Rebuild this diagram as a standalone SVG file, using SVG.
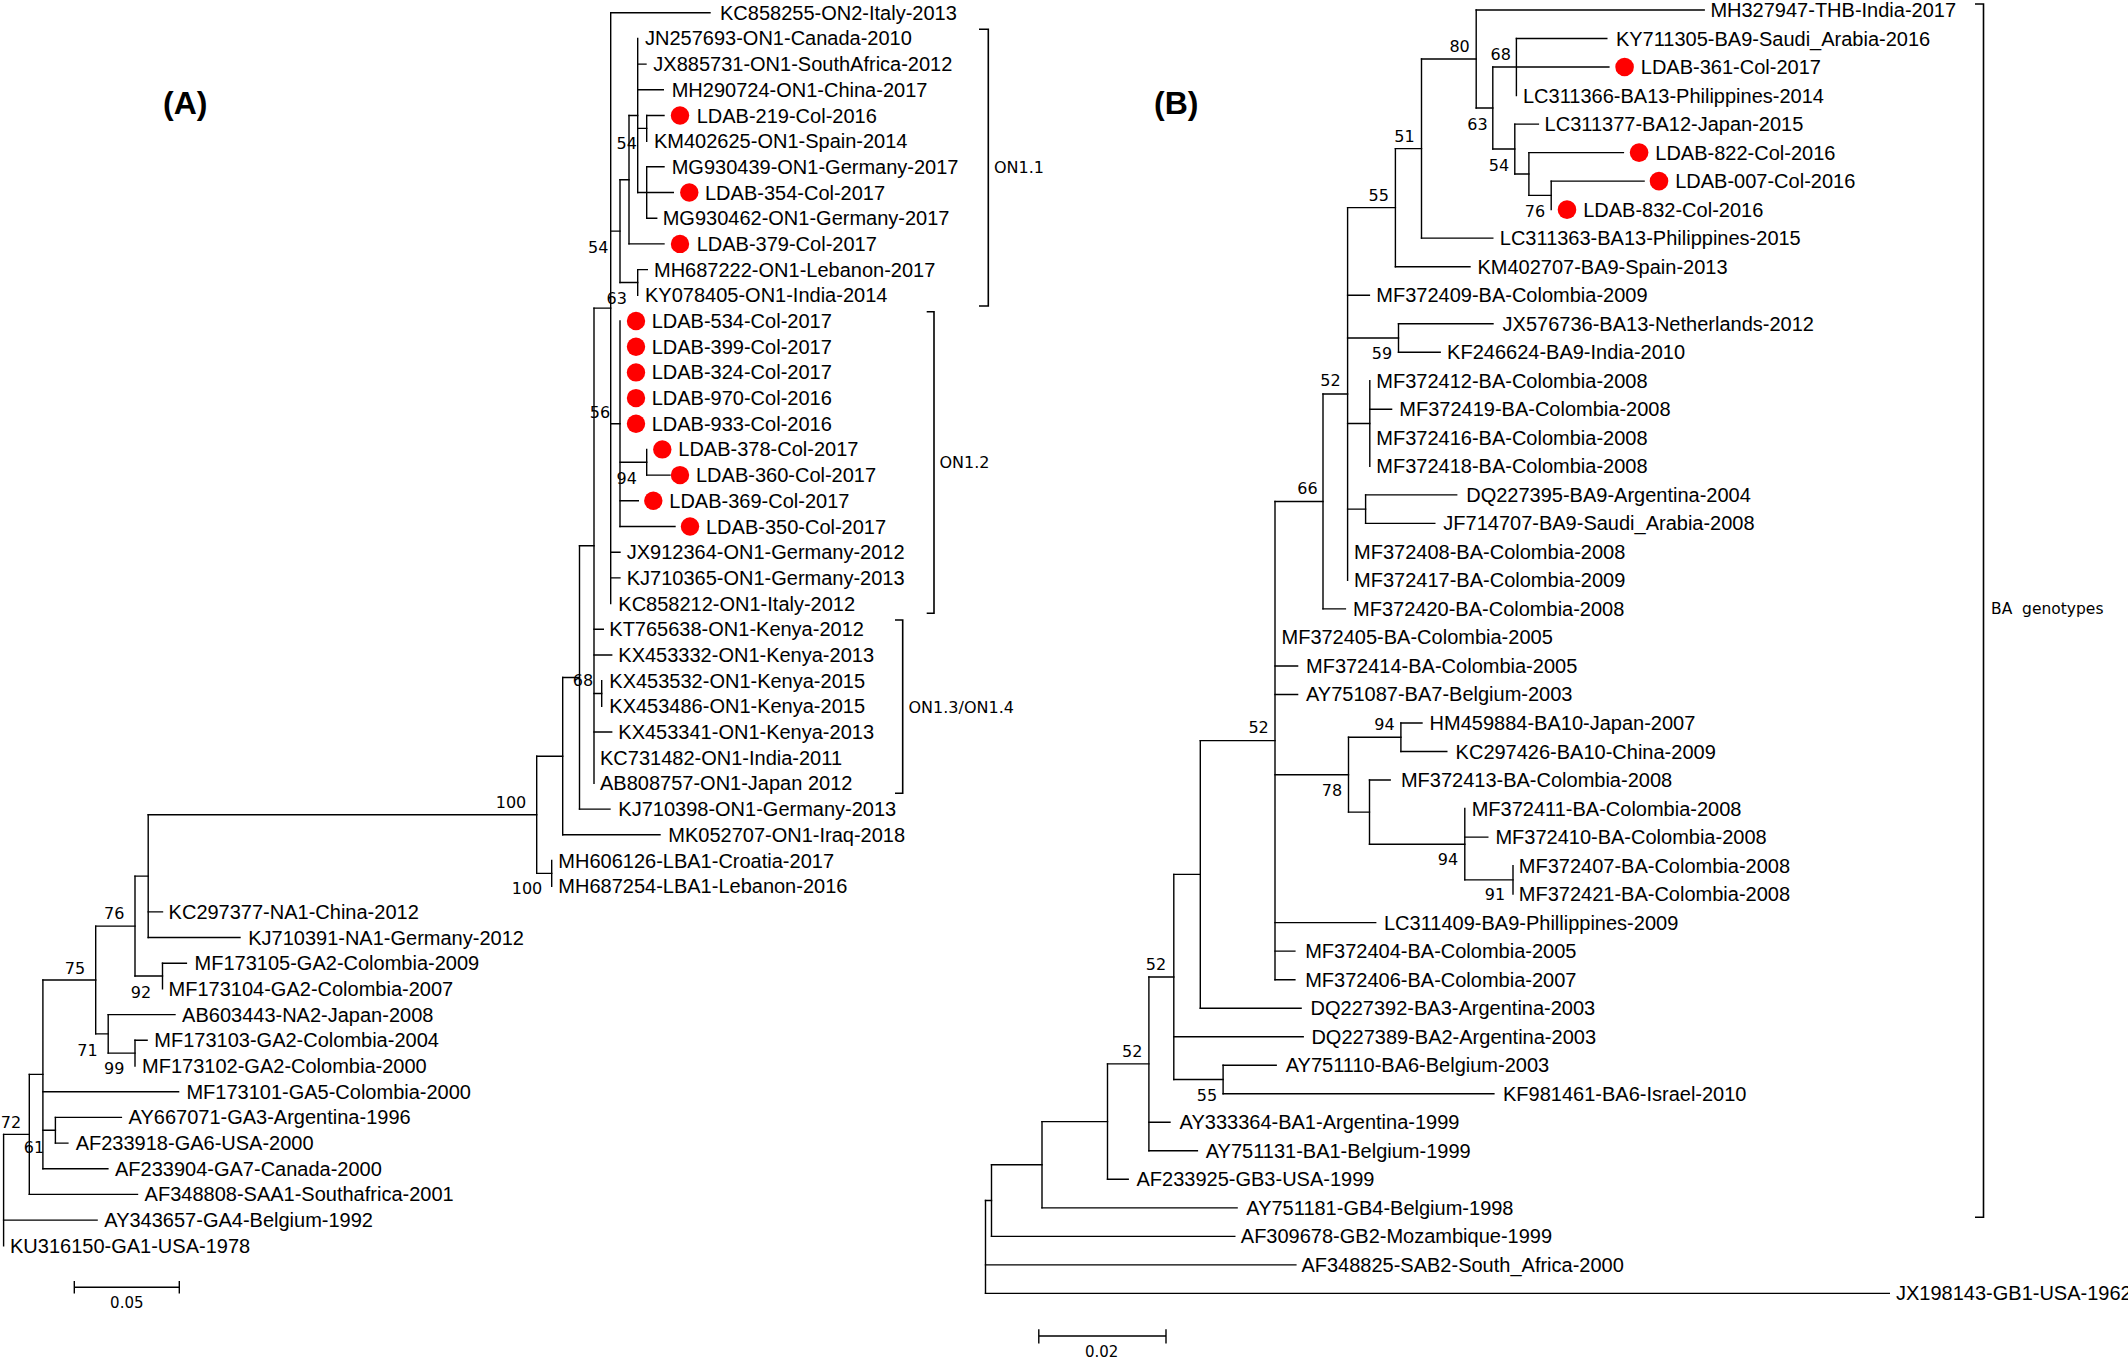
<svg xmlns="http://www.w3.org/2000/svg" width="2128" height="1358" viewBox="0 0 2128 1358">
<style>
.bg{fill:#fff}
.br path{fill:none;stroke:#000;stroke-width:1.4;stroke-linecap:square}
.t{font-family:"Liberation Sans",Arial,sans-serif;font-size:20px;fill:#000}
.bs{font-family:"DejaVu Sans",Verdana,sans-serif;font-size:16px;fill:#000;text-anchor:middle}
.cl{font-family:"DejaVu Sans",Verdana,sans-serif;font-size:16px;fill:#000}
.sc{font-family:"DejaVu Sans",Verdana,sans-serif;font-size:15px;fill:#000;text-anchor:middle}
.pl{font-family:"Liberation Sans",Arial,sans-serif;font-size:32px;font-weight:bold;fill:#000}
.dot{fill:#ff0000}
.bk path{fill:none;stroke:#000;stroke-width:1.6}
</style>
<rect class="bg" x="0" y="0" width="2128" height="1358"/>
<text class="pl" x="163" y="114">(A)</text>
<text class="pl" x="1154" y="114">(B)</text>

<g id="connectors-A" class="br">
<path d="M646.7 115.5V141.2M646.7 166.8V218.2M637.7 38.4V192.5M629 115.45V243.9M637.7 269.6V295.3M620 179.7V282.45M620 321V526.5M646.7 449.4V475.1M610.7 12.7V603.6M601.7 680.6V706.3M594 308.15V783.4M579.5 545.8V809.1M562.7 677.5V834.8M551.7 860.5V886.2M536.7 756.2V873.35M148.2 814.8V937.5M162.5 963.2V988.9M135 876.15V976.05M135 1040.3V1066M108.2 1014.6V1053.15M95.7 926.1V1033.9M55.4 1117.4V1143.1M42.9 980V1168.8M29.3 1074.4V1194.4M3.6 1134.4V1245.8"/>
<path d="M3.6 1134.4H29.3M3.6 1220.1H97.1M29.3 1074.4H42.9M29.3 1194.4H137.5M42.9 980H95.7M42.9 1091.7H178.6M42.9 1130.25H55.4M55.4 1117.4H121.4M55.4 1143.1H67.9M42.9 1168.8H107.9M95.7 926.1H135M95.7 1033.9H108.2M108.2 1014.6H175M108.2 1053.15H135M135 1040.3H147.1M135 876.15H148.2M135 976.05H162.5M162.5 963.2H186.4M148.2 814.8H536.7M148.2 911.9H162.5M148.2 937.5H240M536.7 756.2H562.7M536.7 873.35H551.7M562.7 677.5H579.5M562.7 834.8H660M579.5 545.8H594M579.5 809.1H610M594 308.15H610.7M594 629.3H603.3M594 655H611.7M594 693.45H601.7M594 732H611.7M610.7 12.7H710M610.7 231.1H620M610.7 423.75H620M610.7 552.2H620M610.7 577.9H620M620 179.7H629M620 282.45H637.7M637.7 269.6H647.3M629 115.45H637.7M629 243.9H664M637.7 64.1H646M637.7 89.8H663.3M637.7 128.35H646.7M637.7 192.5H673.3M646.7 115.5H664M646.7 166.8H664M646.7 218.2H656.7M620 462.25H646.7M620 500.8H638.3M620 526.5H675M646.7 475.1H670"/>
</g>

<g id="connectors-B" class="br">
<path d="M1516.4 38.52V95.56M1551.2 181.12V209.64M1528.9 152.6V195.38M1514.8 124.08V173.99M1492.8 67.04V149.04M1476.2 10V108.04M1421.5 59.02V238.16M1395.4 148.59V266.68M1398.5 323.72V352.24M1369.8 380.76V466.32M1365.6 494.84V523.36M1347.6 207.64V580.4M1323 394.02V608.92M1400.9 723V751.52M1513 865.6V894.12M1464.8 808.56V879.86M1369.5 780.04V844.21M1348.5 737.26V812.13M1275 501.47V979.68M1200.3 740.58V1008.2M1223.1 1065.24V1093.76M1173.8 874.39V1079.5M1148.9 976.95V1150.8M1107.5 1063.88V1179.32M1042 1121.6V1207.84M991.5 1164.72V1236.36M985.5 1200.54V1293.4"/>
<path d="M985.5 1200.54H991.5M985.5 1264.88H1295.9M985.5 1293.4H1889.3M991.5 1164.72H1042M991.5 1236.36H1234.8M1042 1121.6H1107.5M1042 1207.84H1237.1M1107.5 1063.88H1148.9M1107.5 1179.32H1128.2M1148.9 976.95H1173.8M1148.9 1122.28H1170M1148.9 1150.8H1197.4M1173.8 874.39H1200.3M1173.8 1036.72H1303.2M1173.8 1079.5H1223.1M1223.1 1065.24H1276.2M1223.1 1093.76H1493.9M1200.3 740.58H1275M1200.3 1008.2H1301.1M1275 501.47H1323M1275 665.96H1297.6M1275 694.48H1297.6M1275 774.7H1348.5M1275 922.64H1375.7M1275 951.16H1294.9M1275 979.68H1294.9M1348.5 737.26H1400.9M1348.5 812.13H1369.5M1400.9 723H1422M1400.9 751.52H1446.8M1369.5 780.04H1390.2M1369.5 844.21H1464.8M1464.8 837.08H1487.8M1464.8 879.86H1513M1323 394.02H1347.6M1323 608.92H1345.4M1347.6 207.64H1395.4M1347.6 295.2H1369.4M1347.6 337.98H1398.5M1347.6 423.54H1369.8M1347.6 509.1H1365.6M1398.5 323.72H1493M1398.5 352.24H1440.2M1369.8 409.28H1391.6M1365.6 494.84H1456.7M1365.6 523.36H1434.8M1395.4 148.59H1421.5M1395.4 266.68H1470M1421.5 59.02H1476.2M1421.5 238.16H1492.8M1476.2 10H1704.2M1476.2 108.04H1492.8M1492.8 67.04H1516.4M1492.8 149.04H1514.8M1516.4 38.52H1606.8M1516.4 67.04H1608.9M1514.8 124.08H1538.4M1514.8 173.99H1528.9M1528.9 152.6H1623.4M1528.9 195.38H1551.2M1551.2 181.12H1644.1"/>
</g>

<g id="brackets" class="bk">
<path d="M979 29.3H988.3V306H979"/>
<path d="M926.7 311.7H934V613.3H926.7"/>
<path d="M895 620H902.7V793.3H895"/>
<path d="M1975 4H1983.5V1217.3H1975"/>
</g>
<g id="clade-labels">
<text class="cl" x="994" y="172.5">ON1.1</text>
<text class="cl" x="939.5" y="468">ON1.2</text>
<text class="cl" x="908.5" y="712.5">ON1.3/ON1.4</text>
<text class="cl" x="1991" y="614" style="font-size:15.5px" xml:space="preserve">BA  genotypes</text>
</g>

<g id="bootstrap-A">
<text class="bs" x="626.7" y="149.3">54</text>
<text class="bs" x="598.3" y="252.7">54</text>
<text class="bs" x="616.7" y="304">63</text>
<text class="bs" x="600" y="417.7">56</text>
<text class="bs" x="626.7" y="484.3">94</text>
<text class="bs" x="583" y="686">68</text>
<text class="bs" x="511" y="807.7">100</text>
<text class="bs" x="527" y="894">100</text>
<text class="bs" x="114.3" y="919.3">76</text>
<text class="bs" x="141" y="997.7">92</text>
<text class="bs" x="75" y="974.3">75</text>
<text class="bs" x="87.5" y="1056">71</text>
<text class="bs" x="114.3" y="1074.3">99</text>
<text class="bs" x="11" y="1127.7">72</text>
<text class="bs" x="33.9" y="1152.7">61</text>
</g>
<g id="bootstrap-B">
<text class="bs" x="1459.6" y="52">80</text>
<text class="bs" x="1500.7" y="60.3">68</text>
<text class="bs" x="1477.4" y="130.3">63</text>
<text class="bs" x="1499" y="171">54</text>
<text class="bs" x="1535" y="217">76</text>
<text class="bs" x="1404.5" y="142">51</text>
<text class="bs" x="1378.8" y="201">55</text>
<text class="bs" x="1330.4" y="386">52</text>
<text class="bs" x="1382" y="359.3">59</text>
<text class="bs" x="1307.4" y="494.3">66</text>
<text class="bs" x="1258.6" y="732.7">52</text>
<text class="bs" x="1384.5" y="730.3">94</text>
<text class="bs" x="1332" y="796">78</text>
<text class="bs" x="1448" y="865.3">94</text>
<text class="bs" x="1495" y="900">91</text>
<text class="bs" x="1156" y="970">52</text>
<text class="bs" x="1207" y="1101">55</text>
<text class="bs" x="1132.3" y="1056.7">52</text>
</g>

<g id="scale-A" class="br">
<path d="M74.3 1287.3H179.3M74.3 1281.7V1292.7M179.3 1281.7V1292.7"/>
<text class="sc" x="126.8" y="1308">0.05</text>
</g>
<g id="scale-B" class="br">
<path d="M1038.8 1336H1166M1038.8 1330V1342.7M1166 1330V1342.7"/>
<text class="sc" x="1101.7" y="1357">0.02</text>
</g>

<g id="taxa-A">
<g id="a0"><text class="t" x="720" y="19.7">KC858255-ON2-Italy-2013</text></g>
<g id="a1"><text class="t" x="645" y="45.4">JN257693-ON1-Canada-2010</text></g>
<g id="a2"><text class="t" x="653.3" y="71.1">JX885731-ON1-SouthAfrica-2012</text></g>
<g id="a3"><text class="t" x="671.7" y="96.8">MH290724-ON1-China-2017</text></g>
<g id="a4"><circle class="dot" cx="680" cy="115.5" r="9.2"/><text class="t" x="696.7" y="122.5">LDAB-219-Col-2016</text></g>
<g id="a5"><text class="t" x="654" y="148.2">KM402625-ON1-Spain-2014</text></g>
<g id="a6"><text class="t" x="671.7" y="173.8">MG930439-ON1-Germany-2017</text></g>
<g id="a7"><circle class="dot" cx="689.3" cy="192.5" r="9.2"/><text class="t" x="705" y="199.5">LDAB-354-Col-2017</text></g>
<g id="a8"><text class="t" x="662.7" y="225.2">MG930462-ON1-Germany-2017</text></g>
<g id="a9"><circle class="dot" cx="680" cy="243.9" r="9.2"/><text class="t" x="696.7" y="250.9">LDAB-379-Col-2017</text></g>
<g id="a10"><text class="t" x="654" y="276.6">MH687222-ON1-Lebanon-2017</text></g>
<g id="a11"><text class="t" x="645" y="302.3">KY078405-ON1-India-2014</text></g>
<g id="a12"><circle class="dot" cx="636" cy="321" r="9.2"/><text class="t" x="651.7" y="328">LDAB-534-Col-2017</text></g>
<g id="a13"><circle class="dot" cx="636" cy="346.7" r="9.2"/><text class="t" x="651.7" y="353.7">LDAB-399-Col-2017</text></g>
<g id="a14"><circle class="dot" cx="636" cy="372.4" r="9.2"/><text class="t" x="651.7" y="379.4">LDAB-324-Col-2017</text></g>
<g id="a15"><circle class="dot" cx="636" cy="398.1" r="9.2"/><text class="t" x="651.7" y="405.1">LDAB-970-Col-2016</text></g>
<g id="a16"><circle class="dot" cx="636" cy="423.7" r="9.2"/><text class="t" x="651.7" y="430.7">LDAB-933-Col-2016</text></g>
<g id="a17"><circle class="dot" cx="662.3" cy="449.4" r="9.2"/><text class="t" x="678.3" y="456.4">LDAB-378-Col-2017</text></g>
<g id="a18"><circle class="dot" cx="680" cy="475.1" r="9.2"/><text class="t" x="696" y="482.1">LDAB-360-Col-2017</text></g>
<g id="a19"><circle class="dot" cx="653.3" cy="500.8" r="9.2"/><text class="t" x="669.3" y="507.8">LDAB-369-Col-2017</text></g>
<g id="a20"><circle class="dot" cx="690" cy="526.5" r="9.2"/><text class="t" x="706" y="533.5">LDAB-350-Col-2017</text></g>
<g id="a21"><text class="t" x="626.7" y="559.2">JX912364-ON1-Germany-2012</text></g>
<g id="a22"><text class="t" x="626.7" y="584.9">KJ710365-ON1-Germany-2013</text></g>
<g id="a23"><text class="t" x="618.3" y="610.6">KC858212-ON1-Italy-2012</text></g>
<g id="a24"><text class="t" x="609.3" y="636.3">KT765638-ON1-Kenya-2012</text></g>
<g id="a25"><text class="t" x="618.3" y="662">KX453332-ON1-Kenya-2013</text></g>
<g id="a26"><text class="t" x="609.3" y="687.6">KX453532-ON1-Kenya-2015</text></g>
<g id="a27"><text class="t" x="609.3" y="713.3">KX453486-ON1-Kenya-2015</text></g>
<g id="a28"><text class="t" x="618.3" y="739">KX453341-ON1-Kenya-2013</text></g>
<g id="a29"><text class="t" x="600" y="764.7">KC731482-ON1-India-2011</text></g>
<g id="a30"><text class="t" x="600" y="790.4">AB808757-ON1-Japan 2012</text></g>
<g id="a31"><text class="t" x="618.3" y="816.1">KJ710398-ON1-Germany-2013</text></g>
<g id="a32"><text class="t" x="668.3" y="841.8">MK052707-ON1-Iraq-2018</text></g>
<g id="a33"><text class="t" x="558.3" y="867.5">MH606126-LBA1-Croatia-2017</text></g>
<g id="a34"><text class="t" x="558.3" y="893.2">MH687254-LBA1-Lebanon-2016</text></g>
<g id="a35"><text class="t" x="168.6" y="918.9">KC297377-NA1-China-2012</text></g>
<g id="a36"><text class="t" x="248.2" y="944.5">KJ710391-NA1-Germany-2012</text></g>
<g id="a37"><text class="t" x="194.6" y="970.2">MF173105-GA2-Colombia-2009</text></g>
<g id="a38"><text class="t" x="168.6" y="995.9">MF173104-GA2-Colombia-2007</text></g>
<g id="a39"><text class="t" x="182.1" y="1021.6">AB603443-NA2-Japan-2008</text></g>
<g id="a40"><text class="t" x="154.3" y="1047.3">MF173103-GA2-Colombia-2004</text></g>
<g id="a41"><text class="t" x="142.1" y="1073">MF173102-GA2-Colombia-2000</text></g>
<g id="a42"><text class="t" x="186.4" y="1098.7">MF173101-GA5-Colombia-2000</text></g>
<g id="a43"><text class="t" x="128.6" y="1124.4">AY667071-GA3-Argentina-1996</text></g>
<g id="a44"><text class="t" x="75.7" y="1150.1">AF233918-GA6-USA-2000</text></g>
<g id="a45"><text class="t" x="115" y="1175.8">AF233904-GA7-Canada-2000</text></g>
<g id="a46"><text class="t" x="144.6" y="1201.4">AF348808-SAA1-Southafrica-2001</text></g>
<g id="a47"><text class="t" x="104.3" y="1227.1">AY343657-GA4-Belgium-1992</text></g>
<g id="a48"><text class="t" x="10" y="1252.8">KU316150-GA1-USA-1978</text></g>
</g>

<g id="taxa-B">
<g id="b0"><text class="t" x="1710.4" y="17">MH327947-THB-India-2017</text></g>
<g id="b1"><text class="t" x="1615.9" y="45.52">KY711305-BA9-Saudi_Arabia-2016</text></g>
<g id="b2"><circle class="dot" cx="1624.6" cy="67.04" r="9.3"/><text class="t" x="1640.8" y="74.04">LDAB-361-Col-2017</text></g>
<g id="b3"><text class="t" x="1523" y="102.56">LC311366-BA13-Philippines-2014</text></g>
<g id="b4"><text class="t" x="1544.6" y="131.08">LC311377-BA12-Japan-2015</text></g>
<g id="b5"><circle class="dot" cx="1639.1" cy="152.6" r="9.3"/><text class="t" x="1655.3" y="159.6">LDAB-822-Col-2016</text></g>
<g id="b6"><circle class="dot" cx="1659" cy="181.12" r="9.3"/><text class="t" x="1675.2" y="188.12">LDAB-007-Col-2016</text></g>
<g id="b7"><circle class="dot" cx="1567" cy="209.64" r="9.3"/><text class="t" x="1583.2" y="216.64">LDAB-832-Col-2016</text></g>
<g id="b8"><text class="t" x="1499.8" y="245.16">LC311363-BA13-Philippines-2015</text></g>
<g id="b9"><text class="t" x="1477.4" y="273.68">KM402707-BA9-Spain-2013</text></g>
<g id="b10"><text class="t" x="1376.3" y="302.2">MF372409-BA-Colombia-2009</text></g>
<g id="b11"><text class="t" x="1502.6" y="330.72">JX576736-BA13-Netherlands-2012</text></g>
<g id="b12"><text class="t" x="1447.1" y="359.24">KF246624-BA9-India-2010</text></g>
<g id="b13"><text class="t" x="1376.3" y="387.76">MF372412-BA-Colombia-2008</text></g>
<g id="b14"><text class="t" x="1399.3" y="416.28">MF372419-BA-Colombia-2008</text></g>
<g id="b15"><text class="t" x="1376.3" y="444.8">MF372416-BA-Colombia-2008</text></g>
<g id="b16"><text class="t" x="1376.3" y="473.32">MF372418-BA-Colombia-2008</text></g>
<g id="b17"><text class="t" x="1466.2" y="501.84">DQ227395-BA9-Argentina-2004</text></g>
<g id="b18"><text class="t" x="1443.3" y="530.36">JF714707-BA9-Saudi_Arabia-2008</text></g>
<g id="b19"><text class="t" x="1354.1" y="558.88">MF372408-BA-Colombia-2008</text></g>
<g id="b20"><text class="t" x="1354.1" y="587.4">MF372417-BA-Colombia-2009</text></g>
<g id="b21"><text class="t" x="1353.1" y="615.92">MF372420-BA-Colombia-2008</text></g>
<g id="b22"><text class="t" x="1281.5" y="644.44">MF372405-BA-Colombia-2005</text></g>
<g id="b23"><text class="t" x="1306" y="672.96">MF372414-BA-Colombia-2005</text></g>
<g id="b24"><text class="t" x="1306" y="701.48">AY751087-BA7-Belgium-2003</text></g>
<g id="b25"><text class="t" x="1429.6" y="730">HM459884-BA10-Japan-2007</text></g>
<g id="b26"><text class="t" x="1455.6" y="758.52">KC297426-BA10-China-2009</text></g>
<g id="b27"><text class="t" x="1400.9" y="787.04">MF372413-BA-Colombia-2008</text></g>
<g id="b28"><text class="t" x="1471.7" y="815.56">MF372411-BA-Colombia-2008</text></g>
<g id="b29"><text class="t" x="1495.4" y="844.08">MF372410-BA-Colombia-2008</text></g>
<g id="b30"><text class="t" x="1518.8" y="872.6">MF372407-BA-Colombia-2008</text></g>
<g id="b31"><text class="t" x="1518.8" y="901.12">MF372421-BA-Colombia-2008</text></g>
<g id="b32"><text class="t" x="1384" y="929.64">LC311409-BA9-Phillippines-2009</text></g>
<g id="b33"><text class="t" x="1305.2" y="958.16">MF372404-BA-Colombia-2005</text></g>
<g id="b34"><text class="t" x="1305.2" y="986.68">MF372406-BA-Colombia-2007</text></g>
<g id="b35"><text class="t" x="1310.6" y="1015.2">DQ227392-BA3-Argentina-2003</text></g>
<g id="b36"><text class="t" x="1311.4" y="1043.72">DQ227389-BA2-Argentina-2003</text></g>
<g id="b37"><text class="t" x="1285.7" y="1072.24">AY751110-BA6-Belgium-2003</text></g>
<g id="b38"><text class="t" x="1503" y="1100.76">KF981461-BA6-Israel-2010</text></g>
<g id="b39"><text class="t" x="1179.6" y="1129.28">AY333364-BA1-Argentina-1999</text></g>
<g id="b40"><text class="t" x="1205.7" y="1157.8">AY751131-BA1-Belgium-1999</text></g>
<g id="b41"><text class="t" x="1136.5" y="1186.32">AF233925-GB3-USA-1999</text></g>
<g id="b42"><text class="t" x="1246.3" y="1214.84">AY751181-GB4-Belgium-1998</text></g>
<g id="b43"><text class="t" x="1240.8" y="1243.36">AF309678-GB2-Mozambique-1999</text></g>
<g id="b44"><text class="t" x="1301.4" y="1271.88">AF348825-SAB2-South_Africa-2000</text></g>
<g id="b45"><text class="t" x="1896" y="1300.4">JX198143-GB1-USA-1962</text></g>
</g>
</svg>
